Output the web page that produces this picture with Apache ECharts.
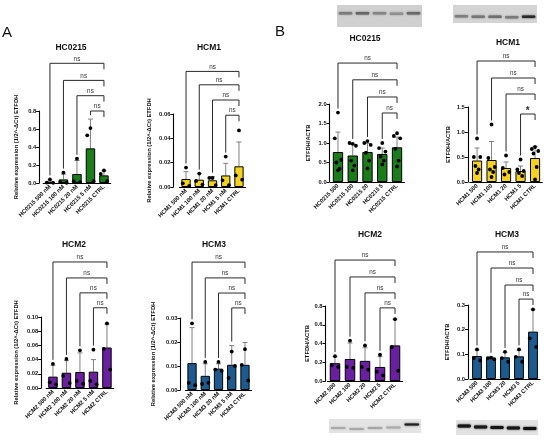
<!DOCTYPE html>
<html>
<head>
<meta charset="utf-8">
<script src="https://cdn.jsdelivr.net/npm/echarts@6/dist/echarts.min.js"></script>
<style>
  html, body { margin: 0; padding: 0; background: #fff; }
  #chart { width: 550px; height: 441px; }
</style>
</head>
<body>
<div id="chart"></div>
<script>
// dose groups
const dosesA = ['500 nM', '100 nM', '20 nM', '5 nM', 'CTRL'];
const dosesB = ['500', '100', '20', '5', 'CTRL'];

// A: relative expression (qPCR), mean / sd / replicates
const hc0215AMean = [0.015, 0.04, 0.10, 0.385, 0.085];
const hc0215ASd = [0.02, 0.06, 0.15, 0.325, 0.05];
const hc0215ADots = [[0.04, 0.005, 0.002], [0.115, 0.01, 0.003], [0.27, 0.02, 0.01], [0.61, 0.53, 0.02], [0.14, 0.10, 0.02]];

const hcm1AMean = [0.0066, 0.006, 0.0055, 0.0095, 0.017];
const hcm1ASd = [0.006, 0.005, 0.003, 0.010, 0.020];
const hcm1ADots = [[0.016, 0.003, 0.001], [0.011, 0.005, 0.002], [0.0075, 0.0075, 0.0015], [0.025, 0.0055, 0.0015], [0.0465, 0.0095, 0.006]];

const hcm2AMean = [0.016, 0.0215, 0.0225, 0.023, 0.057];
const hcm2ASd = [0.016, 0.017, 0.027, 0.017, 0.033];
const hcm2ADots = [[0.034, 0.008, 0.005], [0.041, 0.017, 0.007], [0.053, 0.010, 0.006], [0.054, 0.010, 0.005], [0.091, 0.055, 0.026]];

const hcm3AMean = [0.0112, 0.0059, 0.0089, 0.0105, 0.0105];
const hcm3ASd = [0.0148, 0.005, 0.002, 0.008, 0.0093];
const hcm3ADots = [[0.0278, 0.003, 0.002], [0.0117, 0.0025, 0.003], [0.0117, 0.0085, 0.008], [0.016, 0.005, 0.010], [0.017, 0.0105, 0.004]];

// B: ETFDH/ACTB densitometry
const hc0215BMean = [0.77, 0.68, 0.77, 0.72, 0.89];
const hc0215BSd = [0.51, 0.28, 0.22, 0.15, 0.26];
const hc0215BDots = [[1.78, 1.12, 0.57, 0.50, 0.34, 0.30], [0.98, 1.0, 0.93, 0.55, 0.42, 0.30], [1.05, 1.0, 0.95, 0.75, 0.55, 0.35], [1.0, 0.87, 0.78, 0.65, 0.55, 0.45], [1.25, 1.18, 1.12, 0.85, 0.55, 0.40]];

const hcm1BMean = [0.43, 0.44, 0.28, 0.22, 0.48];
const hcm1BSd = [0.25, 0.37, 0.12, 0.10, 0.23];
const hcm1BDots = [[0.87, 0.50, 0.50, 0.32, 0.25, 0.18], [1.15, 0.48, 0.30, 0.25, 0.20, 0.10], [0.53, 0.28, 0.20, 0.15], [0.45, 0.25, 0.22, 0.18, 0.12], [0.70, 0.66, 0.62, 0.57, 0.30, 0.05]];

const hcm2BMean = [0.19, 0.235, 0.215, 0.15, 0.38];
const hcm2BSd = [0.07, 0.17, 0.14, 0.11, 0.28];
const hcm2BDots = [[0.265, 0.17, 0.15], [0.43, 0.15, 0.14], [0.38, 0.15, 0.12], [0.28, 0.10, 0.06], [0.66, 0.36, 0.11]];

const hcm3BMean = [0.093, 0.086, 0.088, 0.092, 0.192];
const hcm3BSd = [0.025, 0.004, 0.02, 0.025, 0.09];
const hcm3BDots = [[0.12, 0.085, 0.075], [0.087, 0.085, 0.08], [0.11, 0.085, 0.07], [0.12, 0.09, 0.07], [0.282, 0.165, 0.13]];

// comparison brackets vs CTRL: height of each bracket (data units) and its label
const hc0215ABrk = [1.33, 1.14, 0.97, 0.80];
const hcm1ABrk = [0.095, 0.084, 0.0715, 0.059];
const hcm2ABrk = [0.1775, 0.155, 0.134, 0.113];
const hcm3ABrk = [0.0533, 0.0467, 0.0404, 0.0342];
const hc0215BBrk = [3.05, 2.62, 2.18, 1.77];
const hcm1BBrk = [2.42, 2.08, 1.76, 1.36];
const hcm2BBrk = [1.29, 1.11, 0.94, 0.78];
const hcm3BBrk = [0.515, 0.45, 0.381, 0.324];
const marksNs = ['ns', 'ns', 'ns', 'ns'];
const marksHcm1B = ['ns', 'ns', 'ns', '*'];

const GREEN = '#1a7d1a', YELLOW = '#f4d21f', PURPLE = '#6a1fa0', BLUE = '#1c5a8f';
const FONT = 'Liberation Sans, Arial, sans-serif';
const nameA = 'Relative expression (1/2^-ΔCt) ETFDH';
const nameB = 'ETFDH/ACTB';

const panels = [
  { line: 'HC0215', cats: dosesA, mean: hc0215AMean, sd: hc0215ASd, dots: hc0215ADots, brk: hc0215ABrk, marks: marksNs, max: 0.8, step: 0.2, dec: 1, color: GREEN, yName: nameA },
  { line: 'HCM1', cats: dosesA, mean: hcm1AMean, sd: hcm1ASd, dots: hcm1ADots, brk: hcm1ABrk, marks: marksNs, max: 0.06, step: 0.02, dec: 2, color: YELLOW, yName: nameA },
  { line: 'HCM2', cats: dosesA, mean: hcm2AMean, sd: hcm2ASd, dots: hcm2ADots, brk: hcm2ABrk, marks: marksNs, max: 0.10, step: 0.02, dec: 2, color: PURPLE, yName: nameA },
  { line: 'HCM3', cats: dosesA, mean: hcm3AMean, sd: hcm3ASd, dots: hcm3ADots, brk: hcm3ABrk, marks: marksNs, max: 0.03, step: 0.01, dec: 2, color: BLUE, yName: nameA },
  { line: 'HC0215', cats: dosesB, mean: hc0215BMean, sd: hc0215BSd, dots: hc0215BDots, brk: hc0215BBrk, marks: marksNs, max: 2.0, step: 0.5, dec: 1, color: GREEN, yName: nameB },
  { line: 'HCM1', cats: dosesB, mean: hcm1BMean, sd: hcm1BSd, dots: hcm1BDots, brk: hcm1BBrk, marks: marksHcm1B, max: 1.5, step: 0.5, dec: 1, color: YELLOW, yName: nameB },
  { line: 'HCM2', cats: dosesB, mean: hcm2BMean, sd: hcm2BSd, dots: hcm2BDots, brk: hcm2BBrk, marks: marksNs, max: 0.8, step: 0.2, dec: 1, color: PURPLE, yName: nameB },
  { line: 'HCM3', cats: dosesB, mean: hcm3BMean, sd: hcm3BSd, dots: hcm3BDots, brk: hcm3BBrk, marks: marksNs, max: 0.3, step: 0.1, dec: 1, color: BLUE, yName: nameB }
];

// pixel layout of each panel: plot box, y-axis offset, name gap, title centre
const layout = [
  { left: 43.2, top: 111, width: 67.5, height: 72, off: 4, gap: 20, tx: 71, ty: 48 },
  { left: 179.4, top: 114, width: 66.2, height: 73, off: 6, gap: 21, tx: 209, ty: 48 },
  { left: 46.2, top: 317, width: 67.5, height: 71, off: 5, gap: 22, tx: 74, ty: 245 },
  { left: 185.4, top: 318, width: 66.2, height: 72, off: 5, gap: 24, tx: 214, ty: 245 },
  { left: 330.6, top: 104, width: 73.8, height: 78, off: 1, gap: 18, tx: 365, ty: 39 },
  { left: 469.8, top: 107, width: 72.5, height: 75, off: 2, gap: 16, tx: 508, ty: 43 },
  { left: 327.5, top: 306, width: 75, height: 75, off: 2, gap: 14, tx: 370, ty: 235 },
  { left: 470, top: 305, width: 70, height: 74, off: 2, gap: 18, tx: 507, ty: 235 }
];

const jitter = [0, -3.2, 3.2, -1.6, 1.6, 0];

const grid = [], xAxis = [], yAxis = [], series = [], graphic = [];

panels.forEach((p, k) => {
  const L = layout[k];
  grid.push({ left: L.left, top: L.top, width: L.width, height: L.height });
  xAxis.push({
    type: 'category', gridIndex: k,
    data: p.cats.map((c) => p.line + ' ' + c),
    axisLine: { lineStyle: { color: '#000', width: 1.1 } },
    axisTick: { alignWithLabel: true, length: 3, lineStyle: { color: '#000' } },
    axisLabel: { rotate: 45, fontSize: 5.8, fontWeight: 'bold', fontFamily: FONT, color: '#111', margin: 3, interval: 0 }
  });
  yAxis.push({
    type: 'value', gridIndex: k, min: 0, max: p.max, interval: p.step, offset: L.off,
    name: p.yName, nameLocation: 'middle', nameGap: L.gap, nameRotate: 90,
    nameTextStyle: { fontSize: 5.8, fontWeight: 'bold', fontFamily: FONT, color: '#111' },
    axisLine: { show: true, lineStyle: { color: '#000', width: 1.1 } },
    axisTick: { show: true, length: 3, lineStyle: { color: '#000' } },
    splitLine: { show: false },
    axisLabel: { fontSize: 5.8, fontWeight: 'bold', fontFamily: FONT, color: '#111', margin: 3, formatter: (v) => v.toFixed(p.dec) }
  });

  series.push({
    type: 'bar', xAxisIndex: k, yAxisIndex: k, data: p.mean, barWidth: '70%',
    itemStyle: { color: p.color, borderColor: '#000', borderWidth: 1 }, silent: true
  });

  // error bars (mean + SD, upper side only)
  series.push({
    type: 'custom', xAxisIndex: k, yAxisIndex: k, silent: true,
    data: p.mean.map((m, i) => [i, m, p.sd[i]]),
    renderItem: (params, api) => {
      const b = api.coord([api.value(0), api.value(1)]);
      const t = api.coord([api.value(0), api.value(1) + api.value(2)]);
      return {
        type: 'group', children: [
          { type: 'line', shape: { x1: b[0], y1: b[1], x2: t[0], y2: t[1] }, style: { stroke: '#808080', lineWidth: 1 } },
          { type: 'line', shape: { x1: t[0] - 2.5, y1: t[1], x2: t[0] + 2.5, y2: t[1] }, style: { stroke: '#808080', lineWidth: 1 } }
        ]
      };
    }
  });

  // replicate points
  const pts = [];
  p.dots.forEach((arr, i) => arr.forEach((v, j) => pts.push([i, v, j])));
  series.push({
    type: 'custom', xAxisIndex: k, yAxisIndex: k, silent: true, data: pts, z: 5,
    renderItem: (params, api) => {
      const c = api.coord([api.value(0), api.value(1)]);
      return { type: 'circle', shape: { cx: c[0] + jitter[api.value(2)], cy: c[1], r: 1.9 }, style: { fill: '#000' } };
    }
  });

  // comparison brackets, each group vs CTRL
  const last = p.cats.length - 1;
  series.push({
    type: 'custom', xAxisIndex: k, yAxisIndex: k, silent: true, z: 4,
    data: p.brk.map((h, i) => [i, h, Math.max(p.mean[i] + p.sd[i], ...p.dots[i])]),
    renderItem: (params, api) => {
      const a = api.coord([api.value(0), api.value(1)]);
      const b = api.coord([last, api.value(1)]);
      const e = api.coord([api.value(0), api.value(2)]);
      const mark = p.marks[params.dataIndex];
      return {
        type: 'group', children: [
          { type: 'polyline', shape: { points: [[a[0], e[1] - 4], [a[0], a[1]], [b[0], b[1]], [b[0], b[1] + 6]] }, style: { stroke: '#2a2a2a', lineWidth: 1, fill: null } },
          { type: 'text', x: (a[0] + b[0]) / 2, y: mark === '*' ? a[1] + 2 : a[1] - 1.5, style: { text: mark, fontSize: mark === '*' ? 10 : 6.3, fontWeight: mark === '*' ? 'bold' : 'normal', fontFamily: FONT, fill: '#333', align: 'center', verticalAlign: 'bottom' } }
        ]
      };
    }
  });

  graphic.push({ type: 'text', x: L.tx, y: L.ty, style: { text: p.line, fontSize: 8.5, fontWeight: 'bold', fontFamily: FONT, fill: '#111', align: 'center', verticalAlign: 'middle' } });
});

// panel letters
graphic.push({ type: 'text', x: 2, y: 33, style: { text: 'A', fontSize: 15, fontFamily: FONT, fill: '#111', verticalAlign: 'middle' } });
graphic.push({ type: 'text', x: 275, y: 32, style: { text: 'B', fontSize: 15, fontFamily: FONT, fill: '#111', verticalAlign: 'middle' } });

// western blot strips
function blot(x, y, w, h, bg, bandY, bandColors, bandH) {
  const lane = w / bandColors.length;
  const kids = [{ type: 'rect', shape: { x: 0, y: 0, width: w, height: h }, style: { fill: bg } }];
  bandColors.forEach((c, i) => {
    kids.push({ type: 'rect', shape: { x: i * lane + lane * 0.1, y: bandY[i], width: lane * 0.8, height: bandH, r: 1 }, style: { fill: c, shadowBlur: 2, shadowColor: c } });
  });
  return { type: 'group', x: x, y: y, children: kids, silent: true };
}
graphic.push(blot(337, 5, 85, 22, '#d0d0d0', [7, 7, 7, 7.5, 7], ['#7a7a7a', '#666', '#858585', '#8f8f8f', '#6a6a6a'], 2.5));
graphic.push(blot(453, 5, 84, 18, '#d4d4d4', [10, 10.5, 10.5, 11, 10.5], ['#7e7e7e', '#777', '#6e6e6e', '#7a7a7a', '#2a2a2a'], 2.5));
graphic.push(blot(329, 419, 92, 14, '#e3e3e3', [8, 9, 8, 7.5, 4.5], ['#aaa', '#a8a8a8', '#a5a5a5', '#ababab', '#1e1e1e'], 2));
graphic.push(blot(456, 420, 82, 15, '#e2e2e2', [4.5, 5.5, 6, 6.5, 7], ['#151515', '#181818', '#151515', '#181818', '#111'], 3));

const chart = echarts.init(document.getElementById('chart'), null, { renderer: 'canvas' });
chart.setOption({
  animation: false,
  backgroundColor: '#fff',
  textStyle: { fontFamily: FONT },
  grid: grid,
  xAxis: xAxis,
  yAxis: yAxis,
  series: series,
  graphic: graphic
});
</script>
</body>
</html>
